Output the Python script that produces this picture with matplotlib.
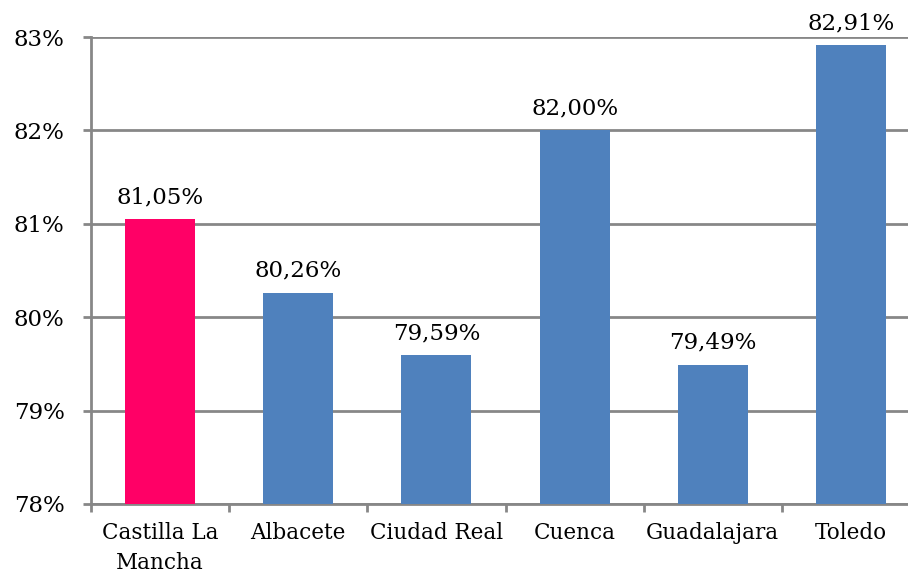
import numpy as np
import matplotlib
matplotlib.use('Agg')
import matplotlib.pyplot as plt
from matplotlib.ticker import FuncFormatter

categories = ['Castilla La\nMancha', 'Albacete', 'Ciudad Real', 'Cuenca', 'Guadalajara', 'Toledo']
values = [81.05, 80.26, 79.59, 82.00, 79.49, 82.91]
labels = ['81,05%', '80,26%', '79,59%', '82,00%', '79,49%', '82,91%']
bar_colors = ['#FF0066', '#4F81BD', '#4F81BD', '#4F81BD', '#4F81BD', '#4F81BD']

plt.rcParams['font.family'] = ['DejaVu Serif']
grid_color = '#878787'

fig = plt.figure(figsize=(9.08, 5.81), dpi=100)
ax = fig.add_axes([91/908, 77/581, 829/908, 467/581])

x = np.arange(len(categories))
ax.bar(x, [v - 78 for v in values], bottom=78, width=0.506, color=bar_colors, zorder=3)

for xi, v, lab in zip(x, values, labels):
    ax.annotate(lab, (xi, v), xytext=(0, 8), textcoords='offset points',
                ha='center', va='bottom', fontsize=16.5)

ax.set_xlim(-0.5, len(categories) - 0.5)
ax.set_ylim(78, 83)
ax.set_yticks(np.arange(78, 84, 1))
ax.yaxis.set_major_formatter(FuncFormatter(lambda v, p: f'{v:.0f}%'))
ax.tick_params(axis='y', labelsize=16.5, length=6, width=2, color=grid_color, pad=13)

ax.set_xticks(x)
ax.set_xticklabels(categories, linespacing=1.45)
ax.set_xticks(np.arange(-0.5, len(categories), 1), minor=True)
ax.tick_params(axis='x', which='major', length=0, labelsize=15.5, pad=13)
ax.tick_params(axis='x', which='minor', length=6, width=2, color=grid_color)

ax.yaxis.grid(True, color=grid_color, linewidth=2, zorder=0)
ax.set_axisbelow(True)
for s in ['top', 'right']:
    ax.spines[s].set_visible(False)
for s in ['left', 'bottom']:
    ax.spines[s].set_color(grid_color)
    ax.spines[s].set_linewidth(2)

fig.savefig('out.png', dpi=100)
